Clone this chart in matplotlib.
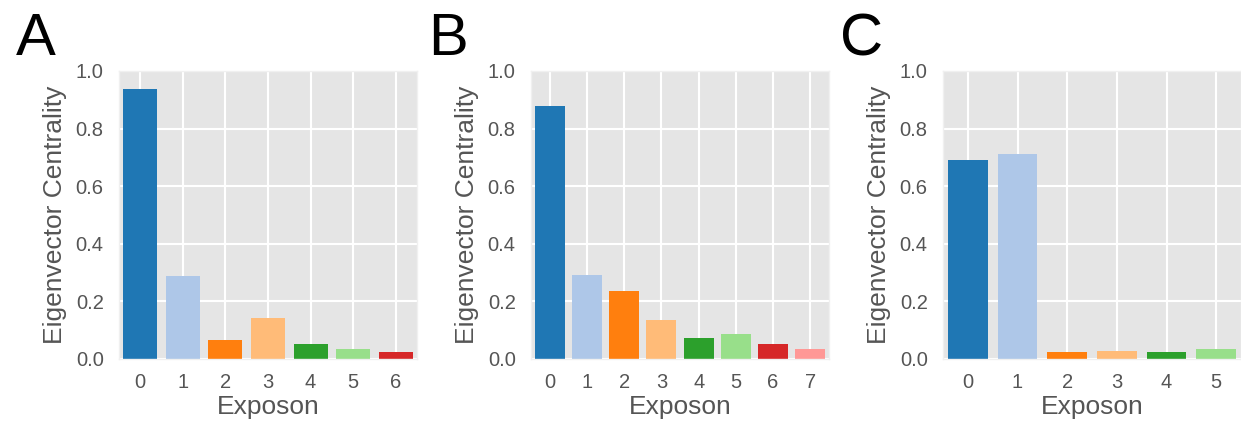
import matplotlib
matplotlib.use("Agg")
import matplotlib.pyplot as plt

plt.rcParams['font.family'] = ['Liberation Sans', 'DejaVu Sans']

# eigenvector centrality per exposon
vals_a = [0.936, 0.288, 0.065, 0.141, 0.053, 0.035, 0.024]
vals_b = [0.878, 0.291, 0.236, 0.137, 0.074, 0.087, 0.052, 0.034]
vals_c = [0.690, 0.713, 0.025, 0.029, 0.023, 0.034]
panels = ['A', 'B', 'C']

colors = ['#1f77b4', '#aec7e8', '#ff7f0e', '#ffbb78',
          '#2ca02c', '#98df8a', '#d62728', '#ff9896']

fig = plt.figure(figsize=(12.41, 4.24), dpi=100)
lefts = [119, 531, 943]
gray = '#555555'

for left, vals, letter in zip(lefts, [vals_a, vals_b, vals_c], panels):
    ax = fig.add_axes([left / 1241, 65 / 424, 298 / 1241, 288 / 424])
    ax.set_facecolor('#e5e5e5')
    ax.set_axisbelow(True)
    ax.grid(True, color='white', linewidth=1.5)
    x = list(range(len(vals)))
    ax.bar(x, vals, width=0.8, color=colors[:len(vals)])
    ax.set_xlim(-0.5, len(vals) - 0.5)
    ax.set_ylim(0, 1.0)
    ax.set_xticks(x)
    ax.set_yticks([0, 0.2, 0.4, 0.6, 0.8, 1.0])
    ax.set_yticklabels(['0.0', '0.2', '0.4', '0.6', '0.8', '1.0'])
    ax.tick_params(axis='both', length=0, labelsize=14.5, colors=gray)
    ax.tick_params(axis='x', pad=10)
    ax.tick_params(axis='y', pad=11)
    for s in ax.spines.values():
        s.set_color('#f0f0f0')
        s.set_linewidth(1)
    ax.set_xlabel('Exposon', fontsize=19, color=gray, labelpad=2)
    ax.set_ylabel('Eigenvector Centrality', fontsize=19, color=gray, labelpad=6)
    fig.text((left - 103) / 1241, 1 - 55 / 424, letter, fontsize=43,
             color='black', ha='left', va='baseline')

fig.savefig('out.png', dpi=100)
